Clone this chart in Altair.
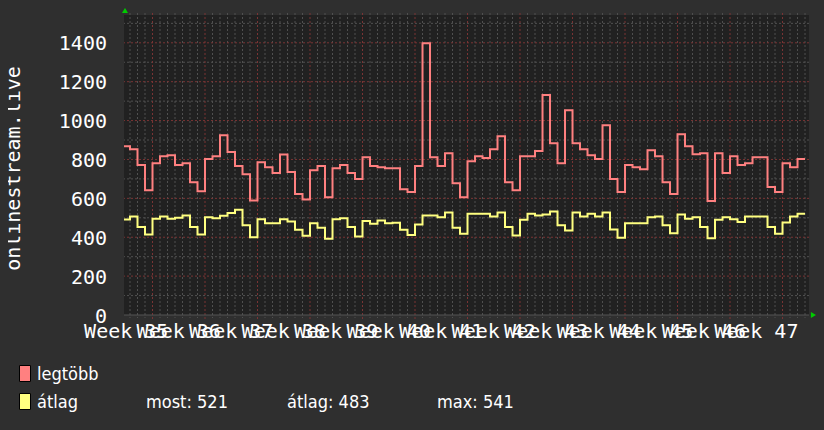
import altair as alt
import pandas as pd
import jinja2

# ---------------- data ----------------
series_names = ["legtöbb", "átlag"]
series_colors = ["#ff8080", "#ffff80"]

legtobb = [
    868, 853, 771, 642, 781, 817, 822, 771, 781, 683,
    637, 802, 817, 925, 838, 766, 724, 589, 786, 760,
    730, 826, 735, 622, 594, 745, 766, 606, 755, 771,
    730, 699, 812, 766, 760, 755, 755, 647, 632, 766,
    1398, 812, 766, 832, 678, 606, 791, 817, 807, 853,
    920, 683, 642, 817, 817, 843, 1131, 884, 781, 1053,
    884, 853, 822, 802, 976, 699, 632, 771, 760, 750,
    848, 817, 683, 622, 930, 868, 827, 832, 586, 832,
    730, 817, 771, 781, 812, 812, 658, 632, 781, 760,
    802,
]
atlag = [
    491, 507, 452, 414, 495, 507, 495, 500, 512, 452,
    414, 503, 497, 510, 524, 541, 461, 400, 493, 472,
    472, 493, 481, 438, 408, 472, 449, 392, 493, 498,
    452, 404, 483, 469, 486, 472, 475, 438, 411, 466,
    512, 512, 503, 527, 449, 418, 521, 521, 521, 507,
    527, 452, 409, 490, 521, 512, 517, 532, 461, 435,
    527, 507, 521, 507, 527, 440, 397, 472, 472, 472,
    503, 507, 461, 421, 517, 495, 503, 452, 395, 490,
    503, 493, 478, 507, 507, 507, 452, 418, 476, 507,
    521,
]

week_labels = ["Week 35", "Week 36", "Week 37", "Week 38", "Week 39", "Week 40", "Week 41",
               "Week 42", "Week 43", "Week 44", "Week 45", "Week 46", "Week 47"]
week_label_days = [-0.5, 6.5, 13.5, 20.5, 27.5, 34.5, 41.5, 48.5, 55.5, 62.5, 69.5, 76.5, 83.5]
week_line_days = [3, 10, 17, 24, 31, 38, 45, 52, 59, 66, 73, 80, 87]
y_tick_values = [0, 200, 400, 600, 800, 1000, 1200, 1400]
y_minor_values = [100, 300, 500, 700, 900, 1100, 1300, 1500]
y_title = "onlinestream.live"
stats_labels = ["most: 521", "átlag: 483", "max: 541"]

first_day = -0.8
x_domain = [-0.8, 90.53]
y_domain = [0, 1543]

# ---------------- tables ----------------
rows = []
for name, vals in zip(series_names, [legtobb, atlag]):
    xs = [first_day] + list(range(0, len(vals) - 1)) + [len(vals) - 1]
    vs = list(vals) + [vals[-1]]
    for x, v in zip(xs, vs):
        rows.append({"day": x, "value": v, "series": name})
df = pd.DataFrame(rows)

day_minor = pd.DataFrame({"day": [d for d in range(0, 91) if d not in week_line_days]})
day_major = pd.DataFrame({"day": week_line_days})
h_minor = pd.DataFrame({"v": y_minor_values})
h_major = pd.DataFrame({"v": y_tick_values[1:]})
weeks = pd.DataFrame({"day": week_label_days, "label": week_labels})
yt = pd.DataFrame({"v": y_tick_values, "lab": [str(v) for v in y_tick_values]})
one = pd.DataFrame({"k": [0]})

xs = alt.Scale(domain=x_domain, nice=False, zero=False)
ys = alt.Scale(domain=y_domain, nice=False, zero=False)

MONO = "DejaVu Sans Mono"
NARROW = "DejaVu Sans Condensed, DejaVu Sans, sans-serif"
LEG_SIZE = 18

grid_vmin = alt.Chart(day_minor).mark_rule(color="#505050", strokeWidth=1, strokeDash=[2, 2]).encode(
    x=alt.X("day:Q", scale=xs, axis=None), y=alt.value(-2), y2=alt.value(303))
grid_vmaj = alt.Chart(day_major).mark_rule(color="#7a3434", strokeWidth=1, strokeDash=[2, 2]).encode(
    x=alt.X("day:Q", scale=xs, axis=None), y=alt.value(-2), y2=alt.value(305))
grid_hmin = alt.Chart(h_minor).mark_rule(color="#505050", strokeWidth=1, strokeDash=[2, 2]).encode(
    y=alt.Y("v:Q", scale=ys, axis=None))
grid_hmaj = alt.Chart(h_major).mark_rule(color="#7a3434", strokeWidth=1, strokeDash=[2, 2]).encode(
    y=alt.Y("v:Q", scale=ys, axis=None))
base_line = alt.Chart(one).mark_rule(color="#555555", strokeWidth=1).encode(
    x=alt.value(0), x2=alt.value(685), y=alt.value(300))

lines = alt.Chart(df).mark_line(interpolate="step-after", strokeWidth=2).encode(
    x=alt.X("day:Q", scale=xs, axis=None),
    y=alt.Y("value:Q", scale=ys, axis=None),
    color=alt.Color("series:N", scale=alt.Scale(domain=series_names, range=series_colors), legend=None),
    detail="series:N",
)

week_text = alt.Chart(weeks).mark_text(font=MONO, fontSize=20, color="#ffffff", align="center",
                                        baseline="alphabetic").encode(
    x=alt.X("day:Q", scale=xs, axis=None), y=alt.value(323), text="label:N")
y_text = alt.Chart(yt).mark_text(font=MONO, fontSize=20, color="#ffffff", align="right",
                                  baseline="alphabetic", dy=7.5).encode(
    y=alt.Y("v:Q", scale=ys, axis=None), x=alt.value(-17), text="lab:N")
title_text = alt.Chart(one).mark_text(font=MONO, fontSize=20, color="#ffffff", align="center",
                                       baseline="alphabetic", angle=270, text=y_title).encode(
    x=alt.value(-104.5), y=alt.value(153.5))

arrow_up = alt.Chart(one).mark_point(shape="triangle-up", filled=True, size=36, color="#00cc00", opacity=1).encode(
    x=alt.value(1), y=alt.value(-4.5))
arrow_right = alt.Chart(one).mark_point(shape="triangle-right", filled=True, size=36, color="#00cc00", opacity=1).encode(
    x=alt.value(689.5), y=alt.value(300))

leg_red = alt.Chart(one).mark_rect(fill=series_colors[0], stroke="#000000", strokeWidth=1).encode(
    x=alt.value(-104.5), x2=alt.value(-93.5), y=alt.value(350.5), y2=alt.value(366.5))
leg_yel = alt.Chart(one).mark_rect(fill=series_colors[1], stroke="#000000", strokeWidth=1).encode(
    x=alt.value(-104.5), x2=alt.value(-93.5), y=alt.value(378.5), y2=alt.value(394.5))
leg_t1 = alt.Chart(one).mark_text(font=NARROW, fontSize=LEG_SIZE, color="#ffffff", align="left",
                                   baseline="alphabetic", text=series_names[0]).encode(
    x=alt.value(-87), y=alt.value(365))
leg_t2 = alt.Chart(one).mark_text(font=NARROW, fontSize=LEG_SIZE, color="#ffffff", align="left",
                                   baseline="alphabetic", text=series_names[1]).encode(
    x=alt.value(-87), y=alt.value(393))
stat_layers = []
for lab, xpos in zip(stats_labels, [22, 163, 313]):
    stat_layers.append(alt.Chart(one).mark_text(font=NARROW, fontSize=LEG_SIZE, color="#ffffff", align="left",
                                                baseline="alphabetic", text=lab).encode(
        x=alt.value(xpos), y=alt.value(393)))

chart = alt.layer(
    grid_vmin, grid_hmin, grid_vmaj, grid_hmaj, base_line, lines,
    week_text, y_text, title_text, arrow_up, arrow_right,
    leg_red, leg_yel, leg_t1, leg_t2, *stat_layers,
).properties(
    width=685, height=300,
    autosize=alt.AutoSizeParams(type="none"),
    padding={"left": 116, "top": 7, "right": 7, "bottom": 107},
    background="#2f2f2f",
).configure_view(fill="#212121", stroke=None)

PAGE = jinja2.Template("""<!DOCTYPE html>
<html>
<head>
  <meta charset="utf-8">
  <style>
    html, body { background: #2f2f2f; }
    #{{ output_div }}.vega-embed { width: 100%; display: flex; }
  </style>
  <script type="text/javascript" src="{{ base_url }}/vega@{{ vega_version }}"></script>
  <script type="text/javascript" src="{{ base_url }}/vega-lite@{{ vegalite_version }}"></script>
  <script type="text/javascript" src="{{ base_url }}/vega-embed@{{ vegaembed_version }}"></script>
</head>
<body>
  <div id="{{ output_div }}"></div>
  <script type="text/javascript">
    (function(vegaEmbed) {
      var spec = {{ spec }};
      var embedOpt = {{ embed_options }};
      vegaEmbed("#{{ output_div }}", spec, embedOpt).catch(function(err) { console.error(err); });
    })(vegaEmbed);
  </script>
</body>
</html>""")

try:
    chart.save("out.html", embed_options={"renderer": "svg", "actions": False}, template=PAGE)
except Exception:
    chart.save("out.html", embed_options={"renderer": "svg", "actions": False})
